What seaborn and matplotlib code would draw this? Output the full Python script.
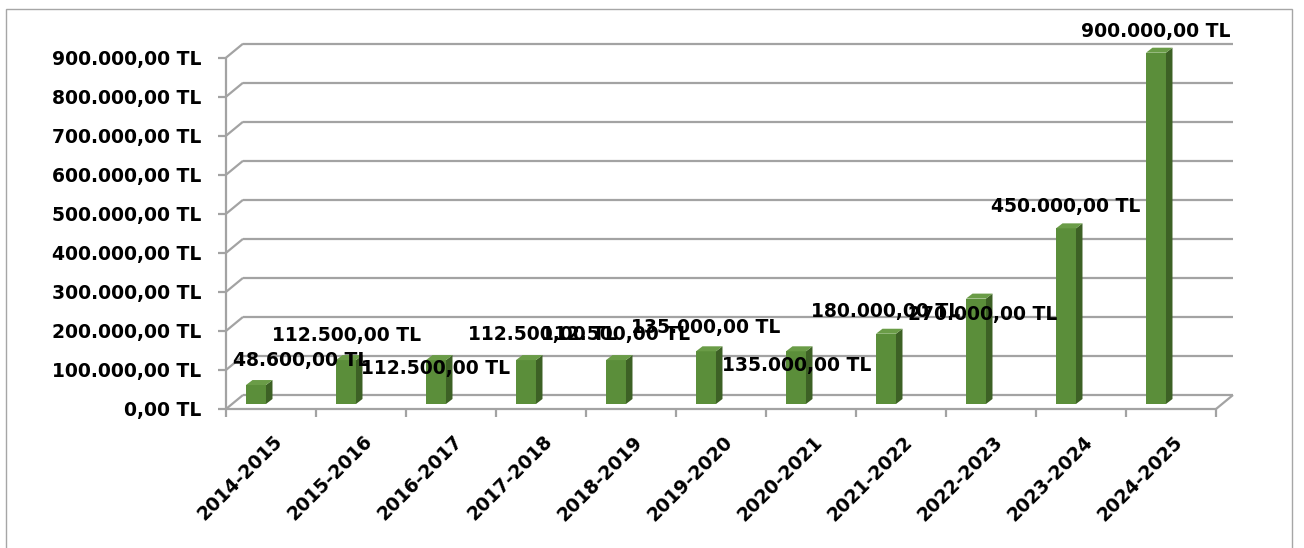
import matplotlib
matplotlib.use("Agg")
import matplotlib.pyplot as plt
from matplotlib.patches import Polygon, Rectangle
import pandas as pd
import seaborn as sns

# ---------- data ----------
years = ["2014-2015", "2015-2016", "2016-2017", "2017-2018", "2018-2019",
         "2019-2020", "2020-2021", "2021-2022", "2022-2023", "2023-2024",
         "2024-2025"]
amounts = [48600, 112500, 112500, 112500, 112500, 135000, 135000,
           180000, 270000, 450000, 900000]
y_ticks = [0, 100000, 200000, 300000, 400000, 500000, 600000, 700000,
           800000, 900000]

# where Excel dropped each value label (px: right shift, baseline above floor)
label_dx = [45, 1, 0, 17, 0, 0, 1, 0, 7, 0, 0]
label_up = [38, 63, 30, 64, 64, 71, 33, 87, 84, 192, 367]

front = "#5b8e3a"
side = "#3d6125"
top = "#6a9c47"
grid = "#a3a3a3"


def tl(v):
    s = f"{v:,.2f}".replace(",", "X").replace(".", ",").replace("X", ".")
    return s + " TL"


sns.set_style("white")
plt.rcParams["font.family"] = ["DejaVu Sans"]
plt.rcParams["font.weight"] = "bold"
plt.rcParams["text.color"] = "black"

W, H = 1304, 548
fig = plt.figure(figsize=(W / 100, H / 100), dpi=100)
ax = fig.add_axes([211 / W, 144 / H, 990 / W, 351.3 / H])

df = pd.DataFrame({"year": years, "amount": amounts})
sns.barplot(data=df, x="year", y="amount", color=front, saturation=1,
            width=0.222, ax=ax, zorder=3, edgecolor="none")

ax.set_xlim(-0.5, 10.5)
ax.set_ylim(0, 900000)
ax.axis("off")

# pixel -> data helpers
px_x = 1 / 90
px_y = 900000 / 351.3


def sh(x, y, dx, dy):
    # shift a data point by dx, dy pixels (dy up)
    return (x + dx * px_x, y + dy * px_y)


line_kw = dict(color=grid, lw=1.6, clip_on=False, solid_capstyle="butt")

# back wall gridlines + left diagonals
for v in y_ticks:
    bx0, by = sh(-0.5, v, 32, 9)
    bx1, _ = sh(10.5, v, 32, 9)
    fx, fy = sh(-0.5, v, 15, -5)
    ax.plot([bx0, bx1], [by, by], zorder=1, **line_kw)
    ax.plot([fx, bx0], [fy, by], zorder=1, **line_kw)
    # tick + label on the front axis
    ax.plot([fx - 8 * px_x, fx], [fy, fy], zorder=1, **line_kw)
    ax.text(fx - 25 * px_x, fy - 7 * px_y, tl(v), ha="right", va="baseline",
            fontsize=13.5, fontweight="bold", color="black")

# front vertical axis
fx, fy0 = sh(-0.5, 0, 15, -5)
_, fy1 = sh(-0.5, 900000, 15, -5)
ax.plot([fx, fx], [fy0, fy1], zorder=1, **line_kw)

# floor front edge, right diagonal, category ticks
fxl, fyf = sh(-0.5, 0, 15, -5)
fxr, _ = sh(10.5, 0, 15, -5)
bxr, byb = sh(10.5, 0, 32, 9)
ax.plot([fxl, fxr], [fyf, fyf], zorder=5, **line_kw)
ax.plot([fxr, bxr], [fyf, byb], zorder=1, **line_kw)
for k in range(len(years) + 1):
    tx, _ = sh(k - 0.5, 0, 15, -5)
    ax.plot([tx, tx], [fyf, fyf - 8 * px_y], zorder=1, **line_kw)

# category labels
for i, name in enumerate(years):
    tx, ty = sh(i, 0, 17, -28)
    ax.text(tx, ty, name, rotation=45, rotation_mode="anchor", ha="right",
            va="top", fontsize=13.5, fontweight="bold", color="black")

# 3d side and top faces of every bar
ddx, ddy = 6.5 * px_x, 5 * px_y
for p in ax.patches:
    x0 = p.get_x()
    x1 = x0 + p.get_width()
    h = p.get_height()
    p.set_clip_on(False)
    ax.add_patch(Polygon([(x1, 0), (x1 + ddx, ddy), (x1 + ddx, h + ddy), (x1, h)],
                         closed=True, facecolor=side, edgecolor="none",
                         zorder=3, clip_on=False))
    ax.add_patch(Polygon([(x0, h), (x0 + ddx, h + ddy), (x1 + ddx, h + ddy), (x1, h)],
                         closed=True, facecolor=top, edgecolor="none",
                         zorder=3, clip_on=False))

# value labels
for i, v in enumerate(amounts):
    lx, ly = sh(i, 0, label_dx[i], label_up[i])
    ax.text(lx, ly, tl(v), ha="center", va="baseline", fontsize=13.5,
            fontweight="bold", color="black", zorder=6)

# chart border
fig.patches.append(Rectangle((6 / W, -0.1), 1286 / W, (H - 9) / H + 0.1,
                             transform=fig.transFigure, fill=False,
                             edgecolor="#a6a6a6", lw=1))

fig.savefig("out.png", dpi=100)
